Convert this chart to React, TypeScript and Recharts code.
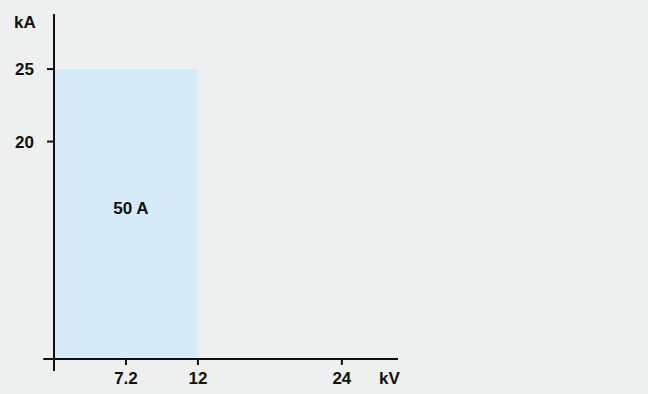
import React from 'react';
import { ComposedChart, XAxis, YAxis, ReferenceArea, ReferenceLine, Label } from 'recharts';

// Voltage ratings (kV) placed on an evenly spaced rating axis
const voltageCategories = ['3.6', '7.2', '12', '17.5', '24'];
const voltageTickLabels = ['7.2', '12', '24'];
// Current ratings (kA)
const currentTicks = [20, 25];
// Fuse rating region
const fuseLabel = '50 A';
const fuseFromKV = '3.6';
const fuseToKV = '12';
const fuseMaxKA = 25;
const currentBaseKA = 5;

const chartData = voltageCategories.map((v, i) => ({ idx: i, kv: v }));
const idxOf = (v: string) => voltageCategories.indexOf(v);

const FONT = '"Liberation Sans", Arial, Helvetica, sans-serif';
const AXIS_COLOR = '#111111';

export default function App() {
  const xTicks = voltageTickLabels.map(idxOf);
  return (
    <div style={{ position: 'absolute', left: 0, top: 0, width: 648, height: 394, background: '#eeefef' }}>
      <ComposedChart
        width={648}
        height={394}
        data={chartData}
        margin={{ top: 14, right: 250, bottom: 0, left: 0 }}
      >
        <XAxis
          type="number"
          dataKey="idx"
          domain={[0, 4.78]}
          allowDataOverflow
          ticks={xTicks}
          tickFormatter={(i: number) => voltageCategories[i]}
          axisLine={false}
          tickLine={{ stroke: AXIS_COLOR, strokeWidth: 2 }}
          tickSize={6}
          tickMargin={7}
          height={35}
          tick={{ fill: AXIS_COLOR, fontSize: 17, fontWeight: 700, fontFamily: FONT }}
        >
          <Label
            content={(props: any) => {
              const vb = props.viewBox || {};
              return (
                <text x={vb.x + vb.width - 19} y={vb.y + 25} fill={AXIS_COLOR} fontSize={17} fontWeight={700} fontFamily={FONT}>
                  kV
                </text>
              );
            }}
          />
        </XAxis>
        <YAxis
          type="number"
          domain={[currentBaseKA, 28.8]}
          allowDataOverflow
          ticks={currentTicks}
          axisLine={false}
          tickLine={{ stroke: AXIS_COLOR, strokeWidth: 2 }}
          tickSize={7}
          tickMargin={13}
          width={54}
          tick={{ fill: AXIS_COLOR, fontSize: 17, fontWeight: 700, fontFamily: FONT }}
        >
          <Label
            content={(props: any) => {
              const vb = props.viewBox || {};
              return (
                <text x={vb.x + 14} y={vb.y + 14} fill={AXIS_COLOR} fontSize={17} fontWeight={700} fontFamily={FONT}>
                  kA
                </text>
              );
            }}
          />
        </YAxis>
        <ReferenceArea
          x1={idxOf(fuseFromKV)}
          x2={idxOf(fuseToKV)}
          y1={currentBaseKA}
          y2={fuseMaxKA}
          fill="#d6ebf7"
          fillOpacity={1}
          stroke="none"
          ifOverflow="visible"
        >
          <Label
            content={(props: any) => {
              const vb = props.viewBox || {};
              return (
                <text
                  x={vb.x + vb.width / 2 + 5}
                  y={vb.y + vb.height / 2 - 6}
                  textAnchor="middle"
                  dominantBaseline="central"
                  fill={AXIS_COLOR}
                  fontSize={17}
                  fontWeight={700}
                  fontFamily={FONT}
                >
                  {fuseLabel}
                </text>
              );
            }}
          />
        </ReferenceArea>
        <ReferenceLine
          segment={[{ x: 0, y: 28.8 }, { x: 0, y: 4.17 }]}
          stroke={AXIS_COLOR}
          strokeWidth={2}
          ifOverflow="visible"
        />
        <ReferenceLine
          segment={[{ x: -0.15, y: currentBaseKA }, { x: 4.78, y: currentBaseKA }]}
          stroke={AXIS_COLOR}
          strokeWidth={2}
          ifOverflow="visible"
        />
      </ComposedChart>
    </div>
  );
}
